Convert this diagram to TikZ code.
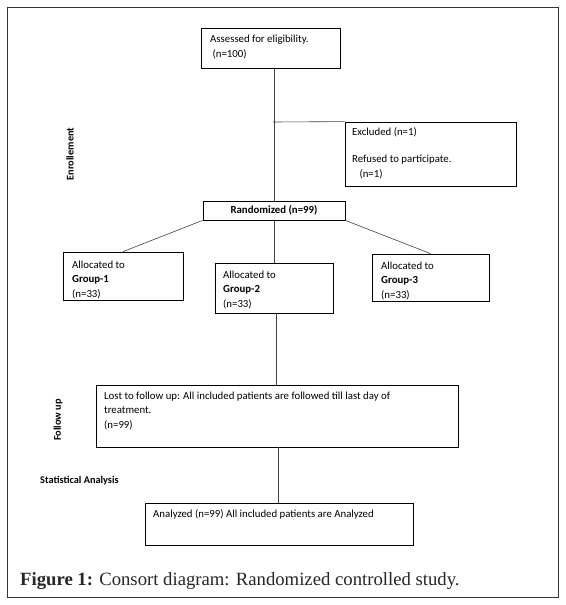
\documentclass[tikz,border=0pt]{standalone}
\usepackage{fontspec}
\setmainfont{Carlito}
\newfontfamily\capfont{Liberation Serif}
\begin{document}
\begin{tikzpicture}[x=1pt,y=-1pt,
  box/.style={draw=black,line width=0.8pt,rectangle,inner sep=0pt},
  btext/.style={anchor=base west,inner sep=0pt,align=left,font=\fontsize{10.8}{14.5}\selectfont},
  conn/.style={draw=black!75,line width=0.6pt},
  side/.style={font=\bfseries\fontsize{10.3}{12}\selectfont}]
\useasboundingbox (0,0) rectangle (565,605);
\draw[line width=0.8pt,black!80] (7,7) rectangle (558,597);

\node[box,minimum width=139pt,minimum height=40pt] (assess) at (270.5,48) {};
\node[btext] (assesst) at (210,57) {Assessed for eligibility.\\\ (n=100)};

\node[box,minimum width=171pt,minimum height=64pt] (excl) at (430.5,154) {};
\node[btext] (exclt) at (352,177) {Excluded (n=1)\\[12.5pt]Refused to participate.\\\ \ \ (n=1)};

\node[box,minimum width=142pt,minimum height=19pt,font=\bfseries\fontsize{10.8}{13}\selectfont] (rand) at (274,210.5) {Randomized (n=99)};

\node[box,minimum width=120pt,minimum height=48pt] (g1) at (123,276) {};
\node[btext] (g1t) at (72,297) {Allocated to\\\textbf{Group-1}\\(n=33)};

\node[box,minimum width=118pt,minimum height=50pt] (g2) at (274,288) {};
\node[btext] (g2t) at (223,307) {Allocated to\\\textbf{Group-2}\\(n=33)};

\node[box,minimum width=117pt,minimum height=47pt] (g3) at (430.5,277.5) {};
\node[btext] (g3t) at (381,298) {Allocated to\\\textbf{Group-3}\\(n=33)};

\node[box,minimum width=362pt,minimum height=62pt] (lost) at (277,416) {};
\node[btext] (lostt) at (104,428) {Lost to follow up: All included patients are followed till last day of\\treatment.\\(n=99)};

\node[box,minimum width=268pt,minimum height=42pt] (anal) at (279,524) {};
\node[btext] (analt) at (153,517) {Analyzed (n=99) All included patients are Analyzed};

\node[side,rotate=90] (enr) at (70,154) {Enrollement};
\node[side,rotate=90] (fol) at (58,420) {Follow up};
\node[side,anchor=west,inner sep=0pt] (stat) at (40,481) {Statistical Analysis};

\coordinate (exj) at (273,122);
\draw[conn] (assess.south -| rand.north) -- (rand.north);
\draw[conn] (exj) -- (excl.north west);
\draw[conn] (rand.south west) -- (g1.north);
\draw[conn] (rand.south east) -- (g3.north);
\draw[conn] (rand.south) -- (g2.north);
\draw[conn] ([xshift=2pt]g2.south) -- ([xshift=2pt]g2.south |- lost.north);
\draw[conn] ([xshift=1pt]lost.south) -- ([xshift=1pt]lost.south |- anal.north);

\node[anchor=base west,inner sep=0pt,font=\capfont\fontsize{18.7}{21}\selectfont,text=black!85] (cap) at (20,585) {\textbf{Figure 1:} Consort diagram: Randomized controlled study.};
\end{tikzpicture}
\end{document}
